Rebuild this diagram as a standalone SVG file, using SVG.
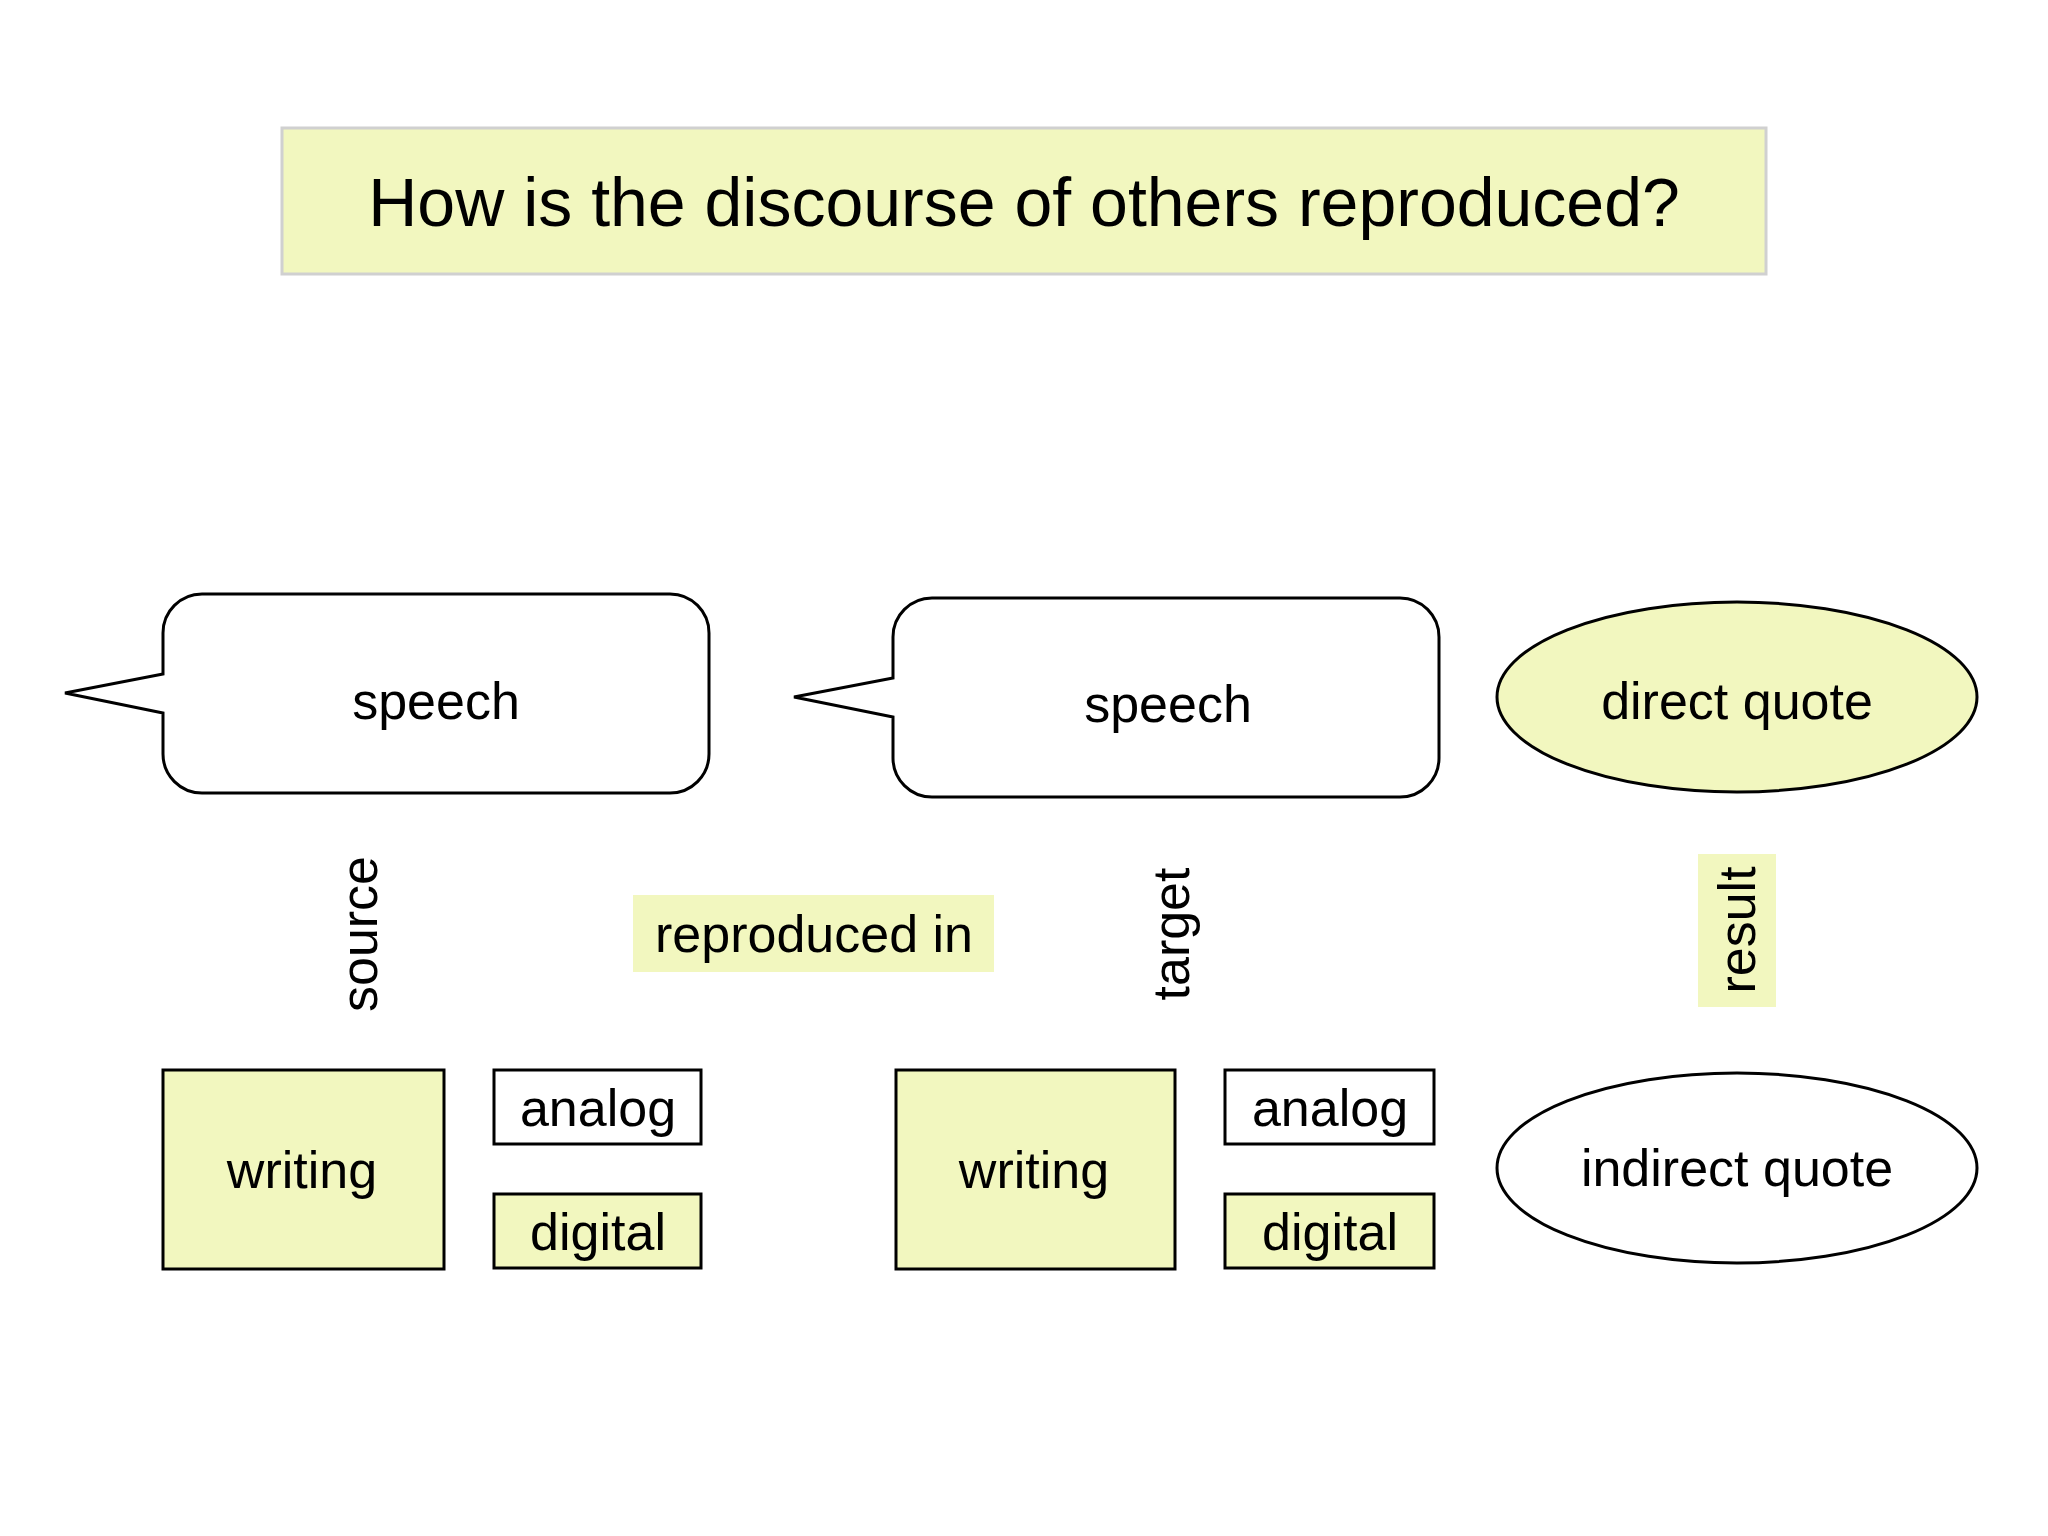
<svg xmlns="http://www.w3.org/2000/svg" width="2048" height="1536" viewBox="0 0 2048 1536">
<style>
text{font-family:"Liberation Sans",Arial,sans-serif;fill:#000;text-anchor:middle;dominant-baseline:central}
.y{fill:#f2f7bf}
.s{stroke:#000;stroke-width:3}
.t{font-size:52px}
</style>
<rect width="2048" height="1536" fill="#fff"/>
<g id="title"><rect x="282" y="128" width="1484" height="146" fill="#f2f7bf" stroke="#d0d0d0" stroke-width="3"/><text x="1024" y="202" style="font-size:68px">How is the discourse of others reproduced?</text></g>
<g id="speech1"><path class="s" fill="#fff" d="M202,594 H670 A39,39 0 0 1 709,633 V754 A39,39 0 0 1 670,793 H202 A39,39 0 0 1 163,754 V713 L65,693 L163,674 V633 A39,39 0 0 1 202,594 Z"/><text class="t" x="436" y="701">speech</text></g>
<g id="speech2"><path class="s" fill="#fff" d="M932,598 H1400 A39,39 0 0 1 1439,637 V758 A39,39 0 0 1 1400,797 H932 A39,39 0 0 1 893,758 V717 L794,697 L893,678 V637 A39,39 0 0 1 932,598 Z"/><text class="t" x="1168" y="704">speech</text></g>
<g id="direct"><ellipse class="s y" cx="1737" cy="697" rx="240" ry="95"/><text class="t" x="1737" y="701">direct quote</text></g>
<g id="indirect"><ellipse class="s" fill="#fff" cx="1737" cy="1168" rx="240" ry="95"/><text class="t" x="1737" y="1168">indirect quote</text></g>
<g id="source"><text class="t" transform="translate(359,934) rotate(-90)">source</text></g>
<g id="reproduced"><rect class="y" x="633" y="895" width="361" height="77"/><text class="t" x="814" y="934">reproduced in</text></g>
<g id="target"><text class="t" transform="translate(1171,934) rotate(-90)">target</text></g>
<g id="result"><rect class="y" x="1698" y="854" width="78" height="153"/><text class="t" transform="translate(1737,930) rotate(-90)">result</text></g>
<g id="writing1"><rect class="s y" x="163" y="1070" width="281" height="199"/><text class="t" x="302" y="1170">writing</text></g>
<g id="analog1"><rect class="s" fill="#fff" x="494" y="1070" width="207" height="74"/><text class="t" x="598" y="1108">analog</text></g>
<g id="digital1"><rect class="s y" x="494" y="1194" width="207" height="74"/><text class="t" x="598" y="1232">digital</text></g>
<g id="writing2"><rect class="s y" x="896" y="1070" width="279" height="199"/><text class="t" x="1034" y="1170">writing</text></g>
<g id="analog2"><rect class="s" fill="#fff" x="1225" y="1070" width="209" height="74"/><text class="t" x="1330" y="1108">analog</text></g>
<g id="digital2"><rect class="s y" x="1225" y="1194" width="209" height="74"/><text class="t" x="1330" y="1232">digital</text></g>
<g id="connectors"></g>
</svg>
